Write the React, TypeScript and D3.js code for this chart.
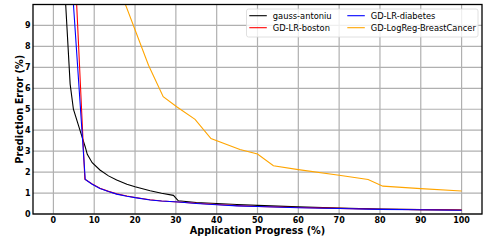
import React, { useEffect, useRef } from 'react';
import * as d3 from 'd3';

// series (x = application progress %, y = prediction error %)
const gaussX = [2.0, 4.1, 4.9, 6.5, 7.8, 8.3, 9.5, 11.4, 13.5, 15.5, 18, 20, 23.7, 26.5, 29.4, 30.6, 35, 40, 45, 50, 60, 70, 80, 90, 100];
const gaussY = [13.5, 6.2, 5.0, 4.0, 3.2, 2.85, 2.45, 2.1, 1.82, 1.62, 1.42, 1.3, 1.11, 0.99, 0.89, 0.63, 0.55, 0.5, 0.45, 0.41, 0.34, 0.28, 0.24, 0.21, 0.19];

const bostonX = [3.8, 7.7, 9.5, 11.4, 13.5, 15.5, 18, 20, 23.7, 26.5, 30.6, 35, 40, 45, 50, 60, 70, 80, 90, 100];
const bostonY = [17.9, 1.66, 1.43, 1.23, 1.08, 0.96, 0.86, 0.79, 0.68, 0.62, 0.57, 0.51, 0.45, 0.4, 0.36, 0.31, 0.27, 0.23, 0.21, 0.19];

const diabetesX = [3.8, 7.8, 9.5, 11.4, 13.5, 15.5, 18, 20, 23.7, 26.5, 30.6, 35, 40, 45, 50, 60, 70, 80, 90, 100];
const diabetesY = [13.2, 1.65, 1.42, 1.22, 1.07, 0.95, 0.85, 0.78, 0.67, 0.62, 0.57, 0.5, 0.44, 0.39, 0.36, 0.3, 0.26, 0.22, 0.2, 0.18];

const cancerX = [15.5, 23.3, 26.9, 30.2, 34.7, 38.6, 45.7, 50, 53.9, 60, 70, 77.1, 80.7, 90, 100];
const cancerY = [11.1, 7.1, 5.6, 5.12, 4.52, 3.6, 3.08, 2.86, 2.3, 2.12, 1.85, 1.65, 1.33, 1.21, 1.1];

const seriesNames = ['gauss-antoniu', 'GD-LR-boston', 'GD-LR-diabetes', 'GD-LogReg-BreastCancer'];
const seriesColors = ['#000000', '#ff0000', '#0000ff', '#ffa500'];

const xTicks = [0, 10, 20, 30, 40, 50, 60, 70, 80, 90, 100];
const yTicks = [0, 1, 2, 3, 4, 5, 6, 7, 8, 9];

export default function App() {
  const ref = useRef<SVGSVGElement>(null);

  useEffect(() => {
    const svg = d3.select(ref.current);
    svg.selectAll('*').remove();

    const left = 33, right = 482, top = 4.5, bottom = 214;
    const font = 'DejaVu Sans, sans-serif';

    const x = d3.scaleLinear().domain([-5, 105]).range([left, right]);
    const y = d3.scaleLinear().domain([0, 10]).range([bottom, top]);

    svg.append('defs').append('clipPath').attr('id', 'plotclip')
      .append('rect')
      .attr('x', left).attr('y', top)
      .attr('width', right - left).attr('height', bottom - top);

    // grid
    const grid = svg.append('g');
    grid.selectAll('.vg').data(xTicks).join('line')
      .attr('x1', d => x(d)).attr('x2', d => x(d))
      .attr('y1', top).attr('y2', bottom)
      .attr('stroke', '#b0b0b0').attr('stroke-width', 1.2);
    grid.selectAll('.hg').data(yTicks).join('line')
      .attr('x1', left).attr('x2', right)
      .attr('y1', d => y(d)).attr('y2', d => y(d))
      .attr('stroke', '#b0b0b0').attr('stroke-width', 1.2);

    // lines
    const all = [
      gaussX.map((v, i) => [v, gaussY[i]]),
      bostonX.map((v, i) => [v, bostonY[i]]),
      diabetesX.map((v, i) => [v, diabetesY[i]]),
      cancerX.map((v, i) => [v, cancerY[i]]),
    ];
    const line = d3.line<number[]>().x(d => x(d[0])).y(d => y(d[1]));
    svg.append('g').attr('clip-path', 'url(#plotclip)')
      .selectAll('path').data(all).join('path')
      .attr('d', d => line(d))
      .attr('fill', 'none')
      .attr('stroke', (d, i) => seriesColors[i])
      .attr('stroke-width', 1.1);

    // frame
    svg.append('rect')
      .attr('x', left).attr('y', top)
      .attr('width', right - left).attr('height', bottom - top)
      .attr('fill', 'none').attr('stroke', '#000').attr('stroke-width', 1.3);

    // tick labels
    svg.append('g').selectAll('text').data(xTicks).join('text')
      .attr('x', d => x(d)).attr('y', 222.5)
      .attr('text-anchor', 'middle')
      .style('font-family', font).style('font-size', '8px').style('font-weight', 'bold')
      .text(d => d);
    svg.append('g').selectAll('text').data(yTicks).join('text')
      .attr('x', 30.5).attr('y', d => y(d) + 3)
      .attr('text-anchor', 'end')
      .style('font-family', font).style('font-size', '8px').style('font-weight', 'bold')
      .text(d => d);

    // axis titles
    svg.append('text')
      .attr('x', 257.5).attr('y', 234)
      .attr('text-anchor', 'middle')
      .style('font-family', font).style('font-size', '9.7px').style('font-weight', 'bold')
      .text('Application Progress (%)');
    svg.append('text')
      .attr('transform', `translate(22.5, ${(top + bottom) / 2}) rotate(-90)`)
      .attr('text-anchor', 'middle')
      .style('font-family', font).style('font-size', '9.7px').style('font-weight', 'bold')
      .text('Prediction Error (%)');

    // legend
    const lg = svg.append('g');
    lg.append('rect')
      .attr('x', 246.5).attr('y', 9).attr('width', 231.5).attr('height', 28).attr('rx', 2)
      .attr('fill', 'white').attr('fill-opacity', 0.8)
      .attr('stroke', '#d8d8d8').attr('stroke-width', 0.8);
    const cols = [249.3, 347.3];
    const rows = [15.7, 27.7];
    seriesNames.forEach((name, i) => {
      const cx = cols[Math.floor(i / 2)];
      const cy = rows[i % 2];
      lg.append('line')
        .attr('x1', cx).attr('x2', cx + 17.5)
        .attr('y1', cy).attr('y2', cy)
        .attr('stroke', seriesColors[i]).attr('stroke-width', 1.1);
      lg.append('text')
        .attr('x', cx + 23.5).attr('y', cy + 3)
        .style('font-family', font).style('font-size', '8.3px')
        .text(name);
    });
  }, []);

  return (
    <svg ref={ref} width={484} height={243}
      style={{ position: 'absolute', left: 0, top: 0, background: 'white' }} />
  );
}
